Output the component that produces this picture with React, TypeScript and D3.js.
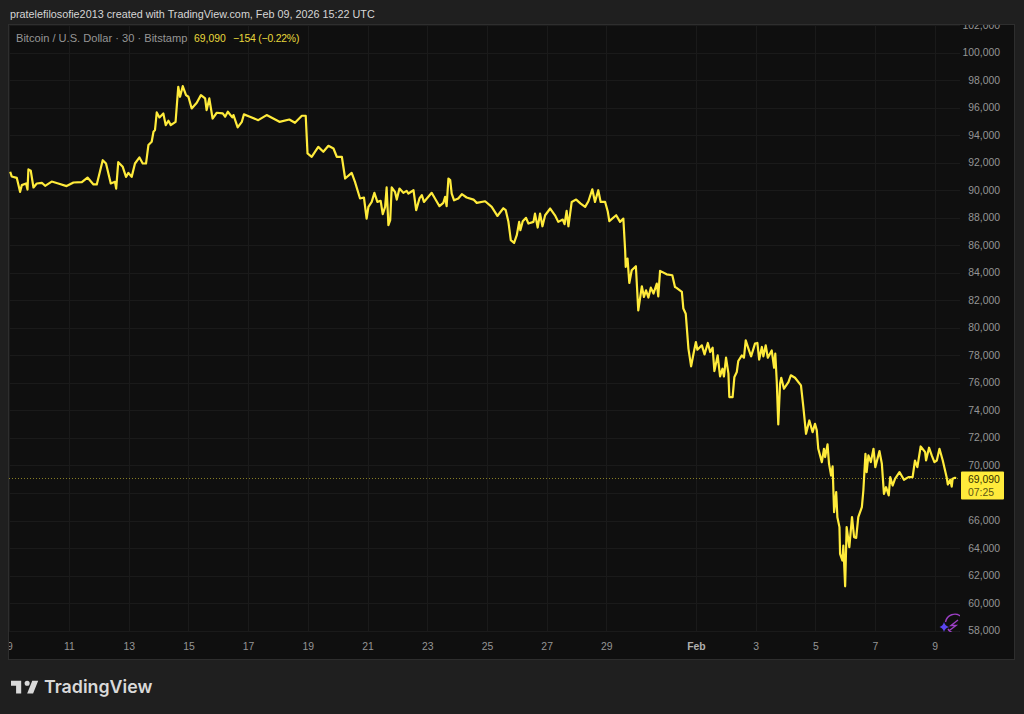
import { useEffect, useRef } from 'react'
import * as d3 from 'd3'

// days counted from Jan 0 2026, so 32 = Feb 1
const days = [
  9.03, 9.08, 9.25, 9.36, 9.42, 9.56, 9.61, 9.64, 9.72, 9.81, 9.92, 10.09, 10.2, 10.42, 10.64, 10.92, 11.15, 11.43, 11.62, 11.82,
  11.93, 12.13, 12.24, 12.4, 12.54, 12.58, 12.65, 12.8, 12.91, 12.99, 13.1, 13.21, 13.36, 13.47, 13.58, 13.66, 13.77, 13.83, 13.88, 13.94,
  14.03, 14.16, 14.24, 14.33, 14.41, 14.57, 14.66, 14.72, 14.81, 14.92, 15.0, 15.11, 15.28, 15.42, 15.56, 15.61, 15.7, 15.81, 15.95, 16.15,
  16.23, 16.32, 16.47, 16.51, 16.65, 16.79, 16.86, 17.06, 17.34, 17.62, 18.05, 18.38, 18.57, 18.8, 18.93, 18.99, 19.13, 19.35, 19.52, 19.69,
  19.86, 19.97, 20.14, 20.25, 20.47, 20.58, 20.75, 20.88, 20.97, 21.03, 21.14, 21.23, 21.33, 21.44, 21.51, 21.59, 21.64, 21.7, 21.76, 21.81,
  21.92, 21.98, 22.07, 22.2, 22.31, 22.37, 22.54, 22.63, 22.74, 22.82, 22.89, 23.15, 23.26, 23.41, 23.54, 23.6, 23.65, 23.71, 23.77, 23.82,
  23.9, 24.04, 24.16, 24.32, 24.55, 24.66, 24.94, 25.16, 25.35, 25.55, 25.63, 25.72, 25.8, 25.91, 26.0, 26.08, 26.12, 26.2, 26.31, 26.39,
  26.56, 26.61, 26.7, 26.78, 26.86, 26.95, 27.12, 27.28, 27.39, 27.54, 27.6, 27.67, 27.73, 27.84, 27.99, 28.14, 28.29, 28.4, 28.53, 28.62,
  28.73, 28.81, 28.96, 29.05, 29.1, 29.33, 29.46, 29.57, 29.63, 29.65, 29.71, 29.77, 29.85, 29.99, 30.07, 30.19, 30.26, 30.33, 30.41, 30.49,
  30.58, 30.69, 30.74, 30.8, 31.02, 31.21, 31.3, 31.34, 31.53, 31.58, 31.66, 31.75, 31.84, 31.92, 32.0, 32.05, 32.2, 32.29, 32.4, 32.48,
  32.56, 32.62, 32.73, 32.81, 32.89, 32.94, 33.01, 33.09, 33.12, 33.23, 33.29, 33.37, 33.42, 33.54, 33.61, 33.67, 33.76, 33.85, 33.98, 34.06,
  34.12, 34.21, 34.26, 34.34, 34.41, 34.54, 34.62, 34.66, 34.71, 34.76, 34.82, 34.86, 34.95, 35.1, 35.18, 35.32, 35.52, 35.6, 35.69, 35.8,
  35.91, 35.99, 36.05, 36.1, 36.22, 36.29, 36.33, 36.41, 36.46, 36.53, 36.58, 36.63, 36.7, 36.74, 36.81, 36.83, 36.91, 36.94, 37.0, 37.05,
  37.14, 37.23, 37.3, 37.37, 37.44, 37.56, 37.61, 37.68, 37.72, 37.78, 37.86, 37.95, 38.01, 38.15, 38.23, 38.3, 38.37, 38.46, 38.51, 38.59,
  38.67, 38.82, 38.97, 39.12, 39.26, 39.34, 39.42, 39.53, 39.68, 39.71, 39.81, 39.9, 39.99, 40.07, 40.16, 40.27, 40.4, 40.44, 40.52, 40.57,
  40.6, 40.68, 40.72,
]

const prices = [
  91340, 91000, 90900, 89880, 90370, 90490, 90050, 91510, 91410, 90200, 90490, 90540, 90320, 90630, 90490, 90300, 90560, 90590, 90920, 90420,
  90420, 92180, 91940, 90490, 90610, 90120, 92040, 91700, 90970, 91260, 90970, 91940, 92380, 91940, 91940, 93280, 93520, 94250, 94370, 95650,
  95290, 95580, 94730, 95050, 94730, 94970, 97520, 96790, 97560, 96910, 96790, 95940, 96350, 96910, 96670, 95820, 96670, 95210, 95630, 95580,
  95340, 95700, 95290, 95460, 94560, 94970, 95510, 95340, 95090, 95460, 94970, 95140, 94900, 95410, 95410, 92670, 92430, 93150, 92790, 93230,
  93030, 92430, 92430, 90850, 91260, 90610, 89400, 89470, 87940, 88790, 89150, 89810, 89150, 89230, 88260, 88790, 90200, 87460, 87820, 90200,
  89880, 89320, 90120, 89810, 89950, 89760, 90000, 88550, 89400, 89640, 89150, 89810, 89400, 88840, 89080, 89520, 88840, 90850, 90730, 89760,
  89270, 89400, 89710, 89470, 89320, 89080, 89200, 88790, 88130, 88690, 88550, 87700, 86370, 86170, 86730, 87700, 87090, 87750, 87990, 87580,
  87700, 88300, 87290, 88300, 87380, 88180, 88670, 88180, 87700, 87870, 87530, 88500, 87380, 89150, 89320, 89030, 88790, 89200, 90070, 89150,
  90000, 89150, 89150, 88430, 87750, 88180, 87700, 87940, 85640, 84430, 85030, 83260, 84180, 84480, 81270, 83020, 82240, 82730, 82200, 82920,
  82490, 83210, 82290, 84140, 83890, 83820, 82970, 82920, 82610, 81400, 81030, 78490, 77200, 78120, 78970, 78410, 78730, 78070, 78900, 78240,
  78560, 76860, 78000, 76470, 77030, 76470, 77830, 76670, 74970, 74970, 76430, 76790, 77590, 78000, 77830, 79090, 78490, 77930, 78850, 78900,
  77690, 78610, 77930, 78730, 77830, 78360, 77100, 78120, 76060, 72980, 75940, 76370, 75580, 76060, 76550, 76370, 75820, 74240, 72300, 73270,
  72420, 73030, 72550, 71210, 70240, 71210, 70610, 71530, 70120, 69270, 69930, 66610, 68060, 66240, 65520, 63580, 63090, 64180, 61220, 65520,
  64060, 66240, 64790, 64740, 66240, 66970, 68180, 70850, 69520, 70730, 70240, 71210, 69880, 71040, 70120, 67940, 68420, 67820, 69150, 68540,
  69030, 69520, 68960, 69150, 69150, 70360, 69880, 71380, 70970, 70360, 71290, 70730, 70240, 70360, 71210, 70360, 69150, 68620, 68960, 68470,
  69030, 69100, 69090,
]

const priceTicks = [58000, 60000, 62000, 64000, 66000, 68000, 70000, 72000, 74000, 76000, 78000, 80000, 82000, 84000, 86000, 88000, 90000, 92000, 94000, 96000, 98000, 100000, 102000]
// 68,000 sits under the last price tag, so it gets no label
const priceLabels = priceTicks.filter(d => d !== 68000)
const dayTicks = [9, 11, 13, 15, 17, 19, 21, 23, 25, 27, 29, 32, 34, 36, 38, 40]
const dayLabels = ['9', '11', '13', '15', '17', '19', '21', '23', '25', '27', '29', 'Feb', '3', '5', '7', '9']

const lastPrice = 69090
const FONT = '"Liberation Sans", sans-serif'

export default function App() {
  const svgRef = useRef<SVGSVGElement>(null)

  useEffect(() => {
    if (!svgRef.current) return
    const svg = d3.select(svgRef.current)
    svg.selectAll('*').remove()

    const width = 1024
    const height = 714
    const frame = { left: 9, top: 25, right: 1014, bottom: 659 }
    const plotRight = 960

    svg.append('rect').attr('width', width).attr('height', height).attr('fill', '#1f1f1f')
    svg.append('rect')
      .attr('x', frame.left - 0.5).attr('y', frame.top - 0.5)
      .attr('width', frame.right - frame.left + 1).attr('height', frame.bottom - frame.top + 1)
      .attr('fill', '#0f0f0f').attr('stroke', '#2e2e2e')

    const defs = svg.append('defs')
    defs.append('clipPath').attr('id', 'plot').append('rect')
      .attr('x', frame.left).attr('y', frame.top).attr('width', plotRight - frame.left).attr('height', 631 - frame.top + 1)
    defs.append('clipPath').attr('id', 'frame').append('rect')
      .attr('x', frame.left).attr('y', frame.top).attr('width', frame.right - frame.left).attr('height', frame.bottom - frame.top)

    const x = d3.scaleLinear().domain([11, 40]).range([69, 934.7])
    const y = d3.scaleLinear().domain([58000, 100000]).range([630.6, 52.6])

    const root = svg.append('g').attr('clip-path', 'url(#frame)')

    // Grid
    const grid = root.append('g').attr('clip-path', 'url(#plot)')
    grid.selectAll('line.h').data(priceTicks).join('line')
      .attr('x1', frame.left).attr('x2', plotRight)
      .attr('y1', d => Math.round(y(d)) + 0.5).attr('y2', d => Math.round(y(d)) + 0.5)
      .attr('stroke', '#1a1a1a')
    grid.selectAll('line.v').data(dayTicks).join('line')
      .attr('y1', frame.top).attr('y2', 632)
      .attr('x1', d => Math.round(x(d)) + 0.5).attr('x2', d => Math.round(x(d)) + 0.5)
      .attr('stroke', '#1a1a1a')

    // Last price line
    root.append('line')
      .attr('x1', frame.left).attr('x2', plotRight)
      .attr('y1', Math.round(y(lastPrice)) + 0.5).attr('y2', Math.round(y(lastPrice)) + 0.5)
      .attr('stroke', '#ffeb3b').attr('stroke-opacity', 0.5).attr('stroke-dasharray', '1 2')

    // Price
    const points = days.map((d, i) => [d, prices[i]] as [number, number])
    const line = d3.line<[number, number]>().x(d => x(d[0])).y(d => y(d[1]))
    root.append('path').attr('clip-path', 'url(#plot)')
      .attr('d', line(points)).attr('fill', 'none')
      .attr('stroke', '#ffeb3b').attr('stroke-width', 2.2).attr('stroke-linejoin', 'round')

    // Axes
    const yAxis = root.append('g').attr('transform', 'translate(1000,-0.3)')
      .call(d3.axisLeft(y).tickValues(priceLabels).tickSize(0).tickPadding(0).tickFormat(d => d3.format(',')(d as number)))
    yAxis.select('.domain').remove()
    yAxis.selectAll('text').attr('font-family', FONT).attr('font-size', '10.4px').attr('fill', '#959595')

    const xAxis = root.append('g').attr('transform', 'translate(0,643)')
      .call(d3.axisBottom(x).tickValues(dayTicks).tickSize(0).tickPadding(0).tickFormat((_, i) => dayLabels[i]))
    xAxis.select('.domain').remove()
    xAxis.selectAll('text').attr('font-family', FONT).attr('font-size', '10.4px').attr('fill', '#959595')
    xAxis.selectAll('text').filter((_, i) => i === 11).attr('font-weight', 700).attr('fill', '#b0b0b0')

    // Last price tag
    const tagY = Math.round(y(lastPrice))
    root.append('rect').attr('x', 961).attr('y', tagY - 6.5).attr('width', 43).attr('height', 28).attr('rx', 1).attr('fill', '#ffeb3b')
    root.append('text').attr('x', 968).attr('y', tagY + 5)
      .attr('font-family', FONT).attr('font-size', '10.4px').attr('fill', '#333000').text(d3.format(',')(lastPrice))
    root.append('text').attr('x', 968).attr('y', tagY + 17.5)
      .attr('font-family', FONT).attr('font-size', '10.4px').attr('fill', '#5c5514').text('07:25')

    // Legend
    root.append('text').attr('x', 16).attr('y', 42).attr('font-family', FONT).attr('font-size', '11.1px').attr('fill', '#969696')
      .text('Bitcoin / U.S. Dollar · 30 · Bitstamp')
    root.append('text').attr('x', 194).attr('y', 42).attr('font-family', FONT).attr('font-size', '10.4px').attr('fill', '#e8d83c')
      .text('69,090')
    root.append('text').attr('x', 233).attr('y', 42).attr('font-family', FONT).attr('font-size', '10.4px').attr('letter-spacing', '-0.2')
      .attr('fill', '#e8d83c').text('−154 (−0.22%)')

    // Header
    svg.append('text').attr('x', 10).attr('y', 18).attr('font-family', FONT).attr('font-size', '10.8px').attr('fill', '#d6d6d6')
      .text('pratelefilosofie2013 created with TradingView.com, Feb 09, 2026 15:22 UTC')

    // Bolt badge
    const badge = root.append('g').attr('clip-path', 'url(#plot)')
    badge.append('path').attr('d', 'M961 616.5 A9.5 9.5 0 0 0 945.5 622').attr('fill', 'none').attr('stroke', '#9c3fc4').attr('stroke-width', 1.4)
    badge.append('path').attr('d', 'M948 629 A9.5 9.5 0 0 0 961 632').attr('fill', 'none').attr('stroke', '#9c3fc4').attr('stroke-width', 1.4)
    badge.append('path').attr('d', 'M958 620 L951 625.5 L956 625.5 L950 630').attr('fill', 'none').attr('stroke', '#9c3fc4').attr('stroke-width', 1.4)
    badge.append('path').attr('d', 'M944 622 Q945 626 949 627 Q945 628 944 632 Q943 628 939.5 627 Q943 626 944 622Z').attr('fill', '#5a45f0')

    // Logo
    const logo = svg.append('g').attr('transform', 'translate(9.3,675.6) scale(0.85)')
    logo.append('path').attr('fill', '#d9d9d9')
      .attr('d', 'M14 6H2v6h6v9h6V6Zm14 15h-7l6-15h7l-6 15Zm-7-9a3 3 0 1 0 0-6 3 3 0 0 0 0 6Z')
    svg.append('text').attr('x', 44).attr('y', 693).attr('font-family', 'Inter, sans-serif').attr('font-weight', 600)
      .attr('font-size', '17.8px').attr('fill', '#d9d9d9').text('TradingView')
  }, [])

  return <svg ref={svgRef} width={1024} height={714} style={{ position: 'absolute', left: 0, top: 0, display: 'block' }} />
}
